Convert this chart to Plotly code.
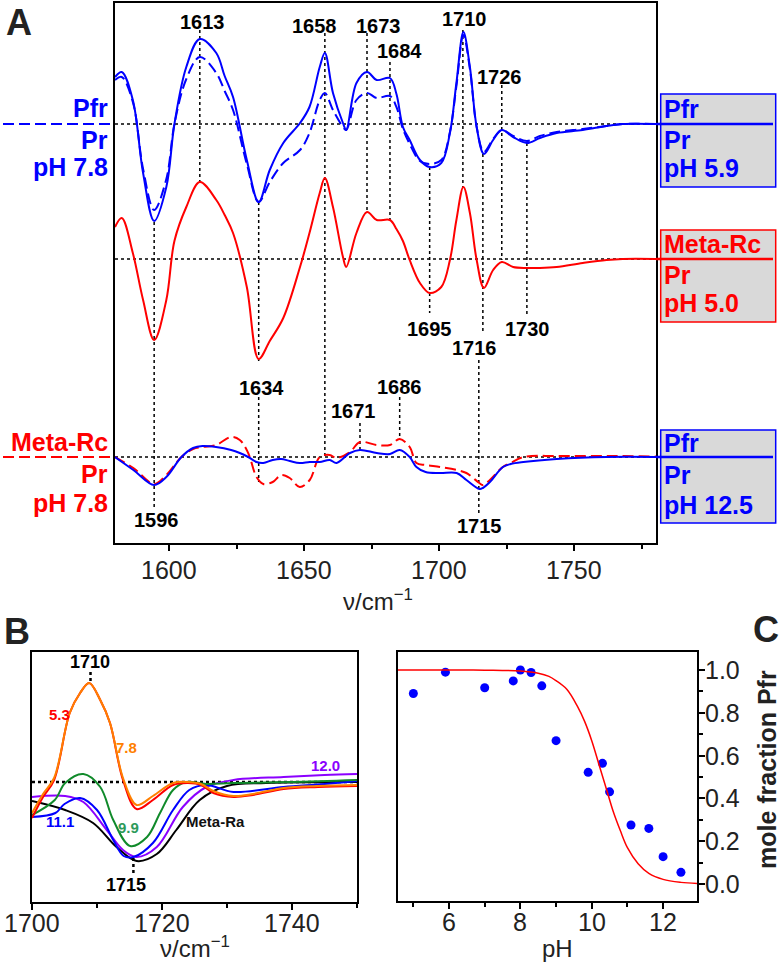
import plotly.graph_objects as go

W, H = 780, 965
FONT = "Arial, 'Liberation Sans', sans-serif"
BLUE, RED = "#0000ff", "#ff0000"

# ---------------- Panel A data (arbitrary units, positive = up) ----------------
wn_top = [1580, 1582.5, 1586.6, 1590.4, 1594.5, 1599, 1602, 1606.4, 1611.4, 1617.5,
          1620.6, 1623.7, 1628.8, 1633.2, 1637.3, 1642.3, 1648.5, 1652, 1655.8, 1657.7,
          1660.7, 1664.4, 1665.6, 1669.4, 1673.3, 1676.9, 1681.8, 1684.2, 1686.6, 1689.1,
          1692.9, 1696.5, 1700.8, 1704, 1706.4, 1709, 1711.4, 1713.9, 1716.6, 1720,
          1723.2, 1727.4, 1732.5, 1737.3, 1743.5, 1753.2, 1762, 1768, 1780.5]
pfr_pr_ph59 = [47, 52, 24, -49, -97, -63, 0, 57, 85, 71,
               48, 27, -36, -78, -46, -19, 1, 17, 57, 71,
               31, 1, -6, 41, 52, 44, 46, 30, -3, -16,
               -36, -43, -39, -9, 41, 92, 57, -3, -30, -16,
               -6, -13, -19, -14, -9, -6, -2, 0, 0]
pfr_pr_ph78 = [44, 47, 22, -45, -86, -55, 0, 45, 67, 51,
               33, 14, -40, -78, -58, -39, -26, -9, 24, 31,
               14, -3, -6, 24, 31, 26, 28, 17, -5, -20,
               -37, -40, -36, -8, 38, 89, 55, -3, -28, -15,
               -6, -12, -17, -12, -8, -5, -2, 0, 0]
metarc_pr_ph50 = [32, 41, 6, -41, -81, -41, 18, 52, 77, 59,
                  44, 26, -28, -100, -82, -59, -8, 26, 66, 81,
                  52, 2, -8, 26, 47, 39, 39, 30, 18, -1,
                  -24, -34, -28, -1, 39, 72, 46, -1, -29, -11,
                  -3, -8, -9, -9, -8, -4, -1, 0, 0]

wn_bot = [1580, 1586.8, 1594.5, 1599, 1604.6, 1608.9, 1612.4, 1617.4, 1623, 1626.2,
          1629.3, 1632.4, 1634.9, 1638.4, 1641.5, 1644.7, 1648.4, 1652.1, 1655.8, 1659.5,
          1662, 1667, 1670.7, 1676.9, 1681.8, 1685.4, 1689.1, 1691.6, 1695, 1700.3,
          1706.5, 1710.1, 1714.9, 1716.2, 1718.8, 1723.6, 1726.5, 1731.2, 1743.5, 1762, 1780.5]
pfr_pr_ph125 = [0, -13, -28, -20, 0, 9, 11, 10, 7, 4,
                0, -5, -6, -3, -2, -4, -6, -5, -5, -3,
                -6, 4, 7, 4, 3, 7, 0, -10, -15, -16,
                -16, -23, -32, -31, -25, -10, -7, -5, -2, 0, 0]
metarc_pr_ph78 = [0, -11, -27, -18, 0, 8, 10, 12, 20, 17,
                  4, -20, -27, -25, -18, -21, -30, -23, 0, 2,
                  -1, 5, 15, 12, 12, 18, 10, -6, -8, -10,
                  -13, -16, -26, -28, -23, -10, -6, 0, 1, 1, 0.5]

# offsets of the three stacked difference spectra
OFF_TOP, OFF_MID, OFF_BOT = 419, 284, 86

# dotted marker lines in A: wavenumber, y-start, y-end
mark_x = [1594.5, 1611.4, 1633.2, 1633.2, 1657.7, 1673.3, 1681.8, 1670.7, 1685.4,
          1696.5, 1708.8, 1716.2, 1723.2, 1732.5, 1714.7]
mark_y0 = [321, 513, 341, 146, 510, 510, 481, 120, 146, 376, 513, 389, 458, 400, 183]
mark_y1 = [36, 361, 182, 61, 86, 331, 323, 93, 103, 230, 356, 210, 283, 228, 30]

peak_labels = ["1613", "1658", "1673", "1684", "1710", "1726", "1634", "1596",
               "1671", "1686", "1695", "1716", "1730", "1715"]
peak_lab_x = [1612.3, 1654, 1677.5, 1685.4, 1709.5, 1722.5, 1634.3, 1595.5,
              1668.4, 1685.4, 1696.5, 1713.2, 1732.8, 1715]
peak_lab_py = [22, 26, 26, 51, 19, 77, 388, 520, 411, 387, 329, 348, 329, 526]

a_ticks = [1600, 1650, 1700, 1750]

# ---------------- Panel B data ----------------
b_x_53 = [1700, 1701.7, 1703.4, 1705.8, 1707.4, 1708.8, 1710.5, 1712, 1714, 1716.1, 1718.6,
          1721.7, 1724, 1726, 1727.9, 1731, 1734, 1738.7, 1744, 1750]
b_y_53 = [-36, -15, 2, 69, 89, 99, 82, 59, 2, -27, -18, -3, -1, -3, -11, -15, -13, -7, -5, -4]
b_y_78 = [-31, -12, 4, 69, 89, 99, 82, 59, 4, -23, -14, -1, 0, -2, -9, -14, -12, -6, -4, -3]
b_x_99 = [1700, 1703.5, 1705.1, 1707.9, 1710.5, 1712.5, 1715.1, 1717.7, 1719.7, 1721.7,
          1723.7, 1726.8, 1731, 1740, 1750]
b_y_99 = [-33, -18, -1, 8, -5, -38, -64, -55, -31, -8, 0, -2, -1, 0, 2]
b_x_111 = [1700, 1703.6, 1705, 1707.4, 1710, 1712.5, 1714.1, 1715.6, 1718.6, 1721.7,
           1724.2, 1726.8, 1731, 1738.7, 1745, 1750]
b_y_111 = [-35, -31, -22, -16, -28, -58, -74, -75, -61, -28, -8, -3, -10, -5, -2, 1]
b_x_120 = [1700, 1705.1, 1707.9, 1711.5, 1714, 1716.1, 1719.2, 1723.2, 1726.8, 1731,
           1738.7, 1745, 1750]
b_y_120 = [-15, -14, -20, -48, -68, -75, -65, -25, -5, 2, 5, 7, 8]
b_x_ra = [1700, 1705.1, 1709.4, 1713, 1716.1, 1719.2, 1722.2, 1725.8, 1730, 1736, 1750]
b_y_ra = [-19, -28, -41, -65, -79, -72, -48, -18, -4, -1, 0]
B_BASE = 120
b_ticks = [1700, 1720, 1740]

# ---------------- Panel C data ----------------
ph_points = [5.0, 5.9, 7.0, 7.8, 8.0, 8.3, 8.6, 9.0, 9.9, 10.3, 10.5, 11.1, 11.6, 12.0, 12.5]
frac_points = [0.89, 0.99, 0.917, 0.949, 1.0, 0.988, 0.926, 0.67, 0.522, 0.564, 0.431,
               0.276, 0.26, 0.128, 0.055]
ph_fit = [4.57, 6.0, 7.0, 8.0, 8.5, 8.8, 9.0, 9.3, 9.6, 9.8, 10.0, 10.2, 10.4, 10.6,
          10.8, 11.0, 11.3, 11.6, 12.0, 12.5, 12.95]
frac_fit = [1.0, 1.0, 0.999, 0.995, 0.985, 0.97, 0.95, 0.91, 0.83, 0.76, 0.67, 0.56,
            0.45, 0.34, 0.25, 0.17, 0.095, 0.05, 0.022, 0.008, 0.003]
c_xticks = [6, 8, 10, 12]
c_yticks = [0.0, 0.2, 0.4, 0.6, 0.8, 1.0]


def dx(p):
    return p / W


def dy(p):
    return 1 - p / H


fig = go.Figure()


def add_a(x, y, off, color, dash):
    fig.add_trace(go.Scatter(x=x, y=[v + off for v in y], mode="lines",
                             line=dict(color=color, width=2, dash=dash, shape="spline", smoothing=1.0),
                             xaxis="x", yaxis="y", showlegend=False, hoverinfo="skip"))


add_a(wn_top, pfr_pr_ph78, OFF_TOP, BLUE, "11px,5px")
add_a(wn_top, pfr_pr_ph59, OFF_TOP, BLUE, "solid")
add_a(wn_top, metarc_pr_ph50, OFF_MID, RED, "solid")
add_a(wn_bot, metarc_pr_ph78, OFF_BOT, RED, "11px,5px")
add_a(wn_bot, pfr_pr_ph125, OFF_BOT, BLUE, "solid")

for xs, ys, col in [(b_x_ra, b_y_ra, "#000000"), (b_x_120, b_y_120, "#8b00ff"),
                    (b_x_111, b_y_111, "#0000ff"), (b_x_99, b_y_99, "#108a2a"),
                    (b_x_53, b_y_53, "#ff0000"), (b_x_53, b_y_78, "#ff7f00")]:
    fig.add_trace(go.Scatter(x=xs, y=[v + B_BASE for v in ys], mode="lines",
                             line=dict(color=col, width=2, shape="spline", smoothing=1.0),
                             xaxis="x2", yaxis="y2", showlegend=False, hoverinfo="skip"))

fig.add_trace(go.Scatter(x=ph_points, y=frac_points, mode="markers",
                         marker=dict(color=BLUE, size=9), xaxis="x3", yaxis="y3",
                         showlegend=False, hoverinfo="skip"))
fig.add_trace(go.Scatter(x=ph_fit, y=frac_fit, mode="lines",
                         line=dict(color=RED, width=1.5, shape="spline", smoothing=1.0),
                         xaxis="x3", yaxis="y3", showlegend=False, hoverinfo="skip"))

shapes = []
for off in (OFF_TOP, OFF_MID, OFF_BOT):
    shapes.append(dict(type="line", xref="x", yref="y", x0=1580, x1=1780.3, y0=off, y1=off,
                       line=dict(color="black", width=1.5, dash="dot"), layer="below"))
for xv, a, b in zip(mark_x, mark_y0, mark_y1):
    shapes.append(dict(type="line", xref="x", yref="y", x0=xv, x1=xv, y0=a, y1=b,
                       line=dict(color="black", width=1.5, dash="dot"), layer="below"))
shapes.append(dict(type="line", xref="paper", yref="y", x0=dx(3), x1=dx(115), y0=OFF_TOP, y1=OFF_TOP,
                   line=dict(color=BLUE, width=2, dash="11px,5px")))
shapes.append(dict(type="line", xref="paper", yref="y", x0=dx(3), x1=dx(115), y0=OFF_BOT, y1=OFF_BOT,
                   line=dict(color=RED, width=2, dash="11px,5px")))
for (t, b), col, off in [((94, 187), BLUE, OFF_TOP), ((230, 322), RED, OFF_MID), ((430, 523), BLUE, OFF_BOT)]:
    shapes.append(dict(type="rect", xref="paper", yref="paper", x0=dx(660.7), x1=dx(775.7),
                       y0=dy(b), y1=dy(t), fillcolor="#d9d9d9", line=dict(color=col, width=1.5)))
    shapes.append(dict(type="line", xref="paper", yref="y", x0=dx(656), x1=dx(773), y0=off, y1=off,
                       line=dict(color=col, width=2.5)))
shapes.append(dict(type="line", xref="x2", yref="y2", x0=1700, x1=1750, y0=B_BASE, y1=B_BASE,
                   line=dict(color="black", width=2.5, dash="dot"), layer="below"))
shapes.append(dict(type="line", xref="x2", yref="y2", x0=1709, x1=1709, y0=230, y1=219,
                   line=dict(color="black", width=2.5, dash="dot")))
shapes.append(dict(type="line", xref="x2", yref="y2", x0=1715.6, x1=1715.6, y0=44, y1=27,
                   line=dict(color="black", width=2.5, dash="dot")))

ann = []
for t, xv, p in zip(peak_labels, peak_lab_x, peak_lab_py):
    ann.append(dict(text=f"<b>{t}</b>", x=xv, y=543 - p, xref="x", yref="y", showarrow=False,
                    font=dict(size=20, color="black", family=FONT), xanchor="center", yanchor="middle"))


def ptxt(text, x, y, color, size, xanchor="center", bold=True, angle=0, yanchor="middle"):
    ann.append(dict(text=(f"<b>{text}</b>" if bold else text), x=dx(x), y=dy(y), xref="paper", yref="paper",
                    showarrow=False, font=dict(size=size, color=color, family=FONT),
                    xanchor=xanchor, yanchor=yanchor, textangle=angle))


ptxt("Pfr", 110, 108, BLUE, 25, "right")
ptxt("Pr", 110, 140, BLUE, 25, "right")
ptxt("pH 7.8", 110, 167, BLUE, 25, "right")
ptxt("Meta-Rc", 110, 442, RED, 25, "right")
ptxt("Pr", 110, 474, RED, 25, "right")
ptxt("pH 7.8", 110, 503, RED, 25, "right")
ptxt("Pfr", 662, 109, BLUE, 25, "left")
ptxt("Pr", 662, 140, BLUE, 25, "left")
ptxt("pH 5.9", 662, 168, BLUE, 25, "left")
ptxt("Meta-Rc", 662, 244, RED, 25, "left")
ptxt("Pr", 662, 275, RED, 25, "left")
ptxt("pH 5.0", 662, 303, RED, 25, "left")
ptxt("Pfr", 662, 443, BLUE, 25, "left")
ptxt("Pr", 662, 475, BLUE, 25, "left")
ptxt("pH 12.5", 662, 505, BLUE, 25, "left")
ptxt("A", 4, 0, "#222222", 36, "left", yanchor="top")
ptxt("B", 2, 631, "#222222", 36, "left")
ptxt("C", 751, 629, "#222222", 36, "left")
ptxt("ν/cm<sup>−1</sup>", 378, 600, "#222222", 24, bold=False)
ptxt("ν/cm<sup>−1</sup>", 195, 947, "#222222", 24, bold=False)
ptxt("pH", 557, 948, "#222222", 24, bold=False)
ptxt("mole fraction Pfr", 767, 770, "#222222", 25, angle=-90)

# tick labels placed at the tick values via the axes
tfont = dict(size=25, color="#222222", family=FONT)
for v in a_ticks:
    ann.append(dict(text=str(v), x=v, y=dy(570), xref="x", yref="paper", showarrow=False,
                    font=tfont, xanchor="center", yanchor="middle"))
for v in b_ticks:
    ann.append(dict(text=str(v), x=v, y=dy(923), xref="x2", yref="paper", showarrow=False,
                    font=tfont, xanchor="center", yanchor="middle"))
for v in c_xticks:
    ann.append(dict(text=str(v), x=v, y=dy(922), xref="x3", yref="paper", showarrow=False,
                    font=tfont, xanchor="center", yanchor="middle"))
for v in c_yticks:
    ann.append(dict(text=f"{v:.1f}", x=dx(703), y=v, xref="paper", yref="y3", showarrow=False,
                    font=tfont, xanchor="left", yanchor="middle"))

b_labels = [("1710", 1708.9, 240, "black", 18), ("5.3", 1704.3, 188, "#ff0000", 15),
            ("7.8", 1714.6, 155, "#ff7f00", 15), ("12.0", 1745.1, 137, "#8b00ff", 15),
            ("11.1", 1704.3, 81, "#0000ff", 15), ("9.9", 1714.9, 75, "#2e9a5a", 15),
            ("Meta-Ra", 1728.3, 81, "#111111", 15), ("1715", 1714.5, 17, "black", 18)]
for t, xv, yv, c, s in b_labels:
    ann.append(dict(text=f"<b>{t}</b>", x=xv, y=yv, xref="x2", yref="y2", showarrow=False,
                    font=dict(size=s, color=c, family=FONT), xanchor="center", yanchor="middle"))

common_x = dict(showgrid=False, zeroline=False, showline=True, linecolor="black", linewidth=2,
                mirror=True, ticks="outside", ticklen=6, tickwidth=1.5, tickcolor="black",
                showticklabels=False)
common_y = dict(showgrid=False, zeroline=False, showline=True, linecolor="black", linewidth=2,
                mirror=True, showticklabels=False)
minor = lambda d: dict(dtick=d, ticks="outside", ticklen=4, tickwidth=1.5, tickcolor="black")

fig.update_layout(
    width=W, height=H, margin=dict(l=0, r=0, t=0, b=0),
    paper_bgcolor="white", plot_bgcolor="white",
    xaxis=dict(domain=[dx(115), dx(656)], range=[1580, 1780.3], anchor="y",
               tick0=1600, dtick=50, minor=minor(25), **common_x),
    yaxis=dict(domain=[dy(543), dy(3)], range=[0, 540], anchor="x", ticks="", **common_y),
    xaxis2=dict(domain=[dx(32), dx(357)], range=[1700, 1750], anchor="y2",
                tick0=1700, dtick=20, minor=minor(10), **common_x),
    yaxis2=dict(domain=[dy(902), dy(652)], range=[0, 250], anchor="x2", ticks="", **common_y),
    xaxis3=dict(domain=[dx(398), dx(697)], range=[4.57, 12.95], anchor="y3",
                tick0=6, dtick=2, minor=minor(1), **common_x),
    yaxis3=dict(domain=[dy(901), dy(652)], range=[-0.079, 1.084], anchor="x3", side="right",
                tick0=0, dtick=0.2, minor=minor(0.1),
                ticks="outside", ticklen=6, tickwidth=1.5, tickcolor="black", **common_y),
    shapes=shapes, annotations=ann,
)

fig.write_html("out.html")
